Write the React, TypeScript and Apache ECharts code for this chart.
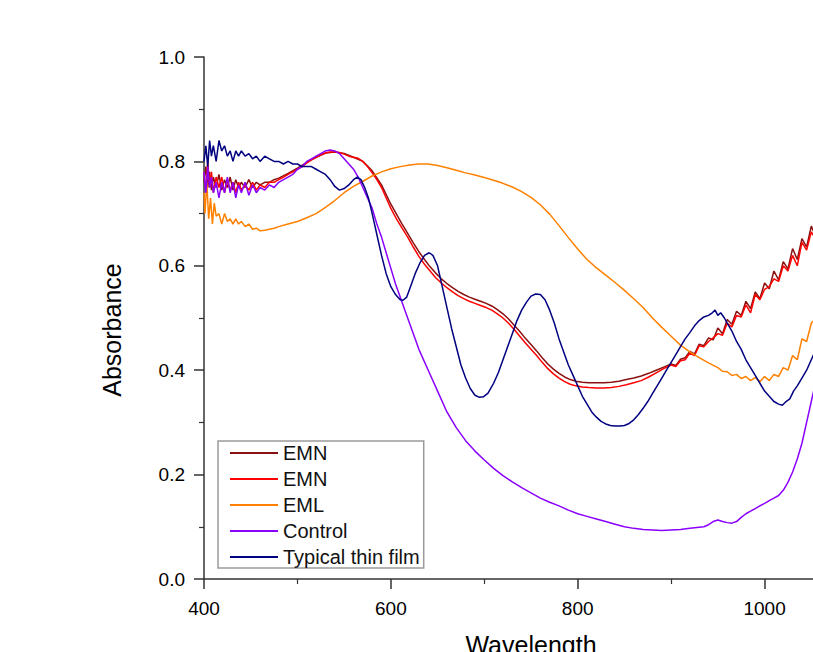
import React, { useEffect, useRef } from "react";
import * as echarts from "echarts";

// ---------- data ----------
const seriesKeys = ["emn1", "emn2", "eml", "control", "film"];
const legendLabels = ["EMN", "EMN", "EML", "Control", "Typical thin film"];
const seriesColors = ["#8B1010", "#FF0000", "#FF8000", "#8A00FF", "#000080"];

const emn1Wl = [400,402,404,406,408,410,413,416,419,422,425,428,431,434,437,440,444,448,452,456,460,465,470,475,480,490,500,510,520,530,540,550,560,570,580,590,600,606,612,618,624,630,636,642,648,654,660,666,672,678,684,690,696,702,708,714,720,726,732,738,744,750,756,762,768,774,780,786,792,798,805,812,820,828,836,844,852,860,868,876,884,892,900,905,910,915,920,925,930,935,940,945,950,955,960,965,970,975,980,985,990,995,1000,1005,1010,1015,1020,1025,1030,1035,1040,1045,1050,1055];
const emn1Abs = [0.76,0.79,0.75,0.78,0.745,0.77,0.75,0.775,0.745,0.765,0.75,0.77,0.745,0.765,0.75,0.76,0.75,0.765,0.75,0.76,0.755,0.76,0.76,0.765,0.768,0.777,0.787,0.798,0.808,0.816,0.818,0.815,0.808,0.80,0.782,0.755,0.718,0.699,0.68,0.662,0.644,0.627,0.612,0.598,0.586,0.575,0.566,0.558,0.551,0.545,0.54,0.536,0.532,0.528,0.523,0.516,0.508,0.498,0.486,0.474,0.461,0.449,0.437,0.424,0.412,0.402,0.394,0.387,0.382,0.379,0.377,0.376,0.376,0.376,0.377,0.379,0.382,0.385,0.389,0.394,0.40,0.406,0.412,0.409,0.421,0.424,0.436,0.431,0.45,0.447,0.462,0.458,0.481,0.47,0.497,0.488,0.513,0.505,0.532,0.518,0.55,0.537,0.567,0.556,0.59,0.573,0.608,0.594,0.633,0.612,0.652,0.636,0.676,0.655];

const emn2Wl = [400,402,404,406,408,410,413,416,419,422,425,428,431,434,437,440,444,448,452,456,460,465,470,475,480,485,490,495,500,505,510,515,520,525,530,535,540,545,550,555,560,565,570,575,580,585,590,595,600,606,612,618,624,630,636,642,648,654,660,666,672,678,684,690,696,702,708,714,720,726,732,738,744,750,756,762,768,774,780,786,792,798,805,812,820,828,836,844,852,860,868,876,884,892,900,905,910,915,920,925,930,935,940,945,950,955,960,965,970,975,980,985,990,995,1000,1005,1010,1015,1020,1025,1030,1035,1040,1045,1050,1055];
const emn2Abs = [0.78,0.74,0.80,0.75,0.78,0.74,0.77,0.75,0.77,0.74,0.765,0.745,0.76,0.74,0.76,0.745,0.755,0.745,0.76,0.745,0.755,0.75,0.76,0.76,0.765,0.77,0.775,0.78,0.785,0.79,0.797,0.803,0.808,0.812,0.816,0.818,0.818,0.817,0.814,0.81,0.808,0.806,0.80,0.79,0.778,0.765,0.75,0.73,0.71,0.69,0.672,0.655,0.636,0.618,0.603,0.59,0.577,0.567,0.558,0.55,0.543,0.537,0.532,0.528,0.524,0.52,0.515,0.508,0.50,0.49,0.478,0.465,0.452,0.44,0.428,0.415,0.403,0.393,0.385,0.378,0.373,0.37,0.368,0.367,0.366,0.366,0.367,0.369,0.372,0.376,0.38,0.387,0.395,0.403,0.41,0.407,0.418,0.42,0.433,0.428,0.447,0.445,0.455,0.462,0.47,0.467,0.49,0.483,0.505,0.502,0.525,0.51,0.545,0.535,0.555,0.56,0.575,0.57,0.60,0.59,0.62,0.60,0.645,0.63,0.665,0.65];

const emlWl = [400,401,403,405,407,409,411,413,416,419,422,425,428,431,434,437,440,444,448,452,456,460,465,470,475,480,490,500,510,520,530,540,550,560,570,580,590,600,610,620,630,640,650,660,670,680,690,700,710,720,730,740,750,760,770,780,790,800,810,820,830,840,850,860,870,880,890,900,910,920,930,940,950,955,960,965,970,975,980,985,990,995,1000,1005,1010,1015,1020,1025,1030,1035,1040,1045,1050,1055];
const emlAbs = [0.74,0.70,0.76,0.69,0.73,0.68,0.72,0.695,0.70,0.68,0.70,0.685,0.69,0.68,0.69,0.68,0.685,0.675,0.68,0.67,0.672,0.667,0.668,0.67,0.672,0.675,0.68,0.685,0.692,0.70,0.712,0.725,0.74,0.752,0.762,0.772,0.78,0.786,0.79,0.793,0.795,0.795,0.792,0.788,0.783,0.778,0.774,0.769,0.764,0.758,0.751,0.742,0.731,0.717,0.699,0.677,0.654,0.632,0.612,0.596,0.582,0.568,0.553,0.537,0.52,0.50,0.482,0.465,0.448,0.435,0.424,0.414,0.405,0.398,0.397,0.39,0.392,0.384,0.388,0.38,0.386,0.378,0.388,0.38,0.392,0.388,0.405,0.40,0.428,0.42,0.46,0.455,0.49,0.50];

const controlWl = [400,402,404,406,408,410,413,416,419,422,425,428,431,434,437,440,444,448,452,456,460,465,470,475,480,485,490,495,500,505,510,515,520,525,530,535,540,545,550,555,560,565,570,575,580,585,590,595,600,605,610,615,620,625,630,640,650,660,670,680,690,700,710,720,730,740,750,760,770,780,790,800,810,820,830,840,850,860,870,880,890,900,910,920,930,935,940,945,950,955,960,965,970,975,980,985,990,995,1000,1005,1010,1015,1020,1025,1030,1035,1040,1045,1050,1055];
const controlAbs = [0.78,0.74,0.79,0.75,0.77,0.74,0.76,0.73,0.76,0.74,0.77,0.74,0.76,0.73,0.755,0.74,0.76,0.735,0.755,0.74,0.75,0.745,0.755,0.75,0.76,0.765,0.77,0.775,0.785,0.79,0.80,0.805,0.81,0.815,0.82,0.822,0.82,0.815,0.805,0.795,0.785,0.77,0.75,0.73,0.71,0.68,0.655,0.625,0.595,0.565,0.54,0.515,0.49,0.465,0.44,0.40,0.36,0.32,0.29,0.265,0.245,0.228,0.212,0.198,0.186,0.175,0.165,0.155,0.147,0.14,0.132,0.125,0.12,0.115,0.11,0.105,0.10,0.097,0.095,0.094,0.093,0.094,0.095,0.097,0.099,0.10,0.104,0.11,0.113,0.11,0.108,0.107,0.11,0.118,0.125,0.13,0.135,0.14,0.145,0.15,0.155,0.16,0.17,0.185,0.205,0.23,0.26,0.30,0.34,0.38];

const filmWl = [400,402,404,406,408,410,413,416,419,422,425,428,431,434,437,440,444,448,452,456,460,465,470,475,480,485,490,495,500,505,510,515,520,525,530,535,540,545,550,555,560,564,568,572,576,580,585,590,595,600,605,610,613,617,621,626,631,636,641,645,650,655,660,665,670,675,680,685,690,695,699,704,710,715,720,725,730,735,740,745,750,755,760,765,770,775,780,785,790,795,800,805,810,815,820,825,830,835,840,845,850,855,860,865,870,875,880,885,890,895,900,905,910,915,920,925,930,935,940,944,947,950,953,957,960,965,970,975,980,985,990,995,1000,1005,1010,1015,1019,1023,1027,1031,1035,1040,1045,1050,1055];
const filmAbs = [0.80,0.83,0.79,0.84,0.81,0.83,0.80,0.84,0.82,0.83,0.81,0.82,0.80,0.82,0.81,0.82,0.81,0.815,0.805,0.81,0.80,0.81,0.805,0.80,0.80,0.795,0.80,0.795,0.795,0.79,0.79,0.79,0.785,0.78,0.775,0.765,0.752,0.745,0.748,0.755,0.765,0.77,0.765,0.75,0.73,0.70,0.66,0.62,0.585,0.56,0.545,0.535,0.534,0.54,0.56,0.585,0.605,0.62,0.625,0.62,0.60,0.56,0.52,0.48,0.445,0.41,0.385,0.365,0.352,0.348,0.349,0.356,0.375,0.395,0.42,0.445,0.47,0.495,0.515,0.53,0.542,0.546,0.545,0.535,0.515,0.49,0.46,0.435,0.41,0.39,0.37,0.35,0.335,0.32,0.31,0.302,0.297,0.294,0.293,0.293,0.294,0.298,0.305,0.315,0.327,0.34,0.355,0.37,0.385,0.40,0.415,0.43,0.445,0.46,0.472,0.485,0.495,0.502,0.505,0.51,0.515,0.505,0.51,0.50,0.49,0.475,0.455,0.44,0.42,0.405,0.39,0.375,0.36,0.35,0.34,0.335,0.333,0.34,0.345,0.36,0.37,0.385,0.40,0.42,0.44];

const xTicks = { min: 400, max: 1100, interval: 200 };
const yTicks = { min: 0, max: 1, interval: 0.2 };

const seriesWl = [emn1Wl, emn2Wl, emlWl, controlWl, filmWl];
const seriesAbs = [emn1Abs, emn2Abs, emlAbs, controlAbs, filmAbs];

const FONT = "'Liberation Sans', Arial, sans-serif";

export default function App() {
  const ref = useRef<HTMLDivElement>(null);
  useEffect(() => {
    const chart = echarts.init(ref.current!, null, { renderer: "svg" });
    const axisLineStyle = { color: "#333", width: 1.5 };
    chart.setOption({
      animation: false,
      backgroundColor: "#fff",
      grid: {
        left: 204,
        top: 57,
        width: 654,
        height: 522,
        containLabel: false,
        outerBoundsMode: "none",
      },
      legend: {
        orient: "vertical",
        left: 218,
        top: 441,
        padding: [2, 4, 1, 12],
        itemGap: 6,
        itemWidth: 48,
        itemHeight: 2,
        icon: "rect",
        backgroundColor: "#fff",
        borderColor: "#9a9a9a",
        borderWidth: 1.5,
        borderRadius: 0,
        selectedMode: false,
        formatter: (name: string) => legendLabels[seriesKeys.indexOf(name)],
        textStyle: { fontSize: 20, fontFamily: FONT, color: "#111" },
        data: seriesKeys,
      },
      xAxis: {
        type: "value",
        min: xTicks.min,
        max: xTicks.max,
        interval: xTicks.interval,
        name: "Wavelength",
        nameLocation: "middle",
        nameGap: 53,
        nameTextStyle: { fontSize: 25, fontFamily: FONT, color: "#000" },
        axisLine: { show: true, onZero: false, lineStyle: axisLineStyle },
        axisTick: { show: true, inside: false, length: 10, lineStyle: axisLineStyle },
        minorTick: { show: true, splitNumber: 2, length: 5, lineStyle: { color: "#333", width: 1.2 } },
        splitLine: { show: false },
        axisLabel: {
          fontSize: 19,
          fontFamily: FONT,
          color: "#000",
          margin: 20,
          formatter: (v: number) => (v % 200 === 0 ? String(v) : ""),
        },
      },
      yAxis: {
        type: "value",
        min: yTicks.min,
        max: yTicks.max,
        interval: yTicks.interval,
        name: "Absorbance",
        nameLocation: "middle",
        nameGap: 80,
        nameTextStyle: { fontSize: 25, fontFamily: FONT, color: "#000", padding: [0, 24, 0, 0] },
        axisLine: { show: true, onZero: false, lineStyle: axisLineStyle },
        axisTick: { show: true, inside: false, length: 10, lineStyle: axisLineStyle },
        minorTick: { show: true, splitNumber: 2, length: 5, lineStyle: { color: "#333", width: 1.2 } },
        splitLine: { show: false },
        axisLabel: {
          fontSize: 19,
          fontFamily: FONT,
          color: "#000",
          margin: 19,
          formatter: (v: number) => v.toFixed(1),
        },
      },
      series: seriesKeys.map((key, i) => ({
        type: "line",
        name: key,
        showSymbol: false,
        symbol: "none",
        color: seriesColors[i],
        lineStyle: { color: seriesColors[i], width: 1.5 },
        data: seriesWl[i].map((w, j) => [w, seriesAbs[i][j]]),
        z: 2 + i,
      })),
    });
    return () => chart.dispose();
  }, []);
  return (
    <div
      style={{
        position: "absolute",
        left: 0,
        top: 0,
        width: 813,
        height: 652,
        overflow: "hidden",
        background: "#fff",
      }}
    >
      <div ref={ref} style={{ width: 900, height: 652 }} />
    </div>
  );
}
